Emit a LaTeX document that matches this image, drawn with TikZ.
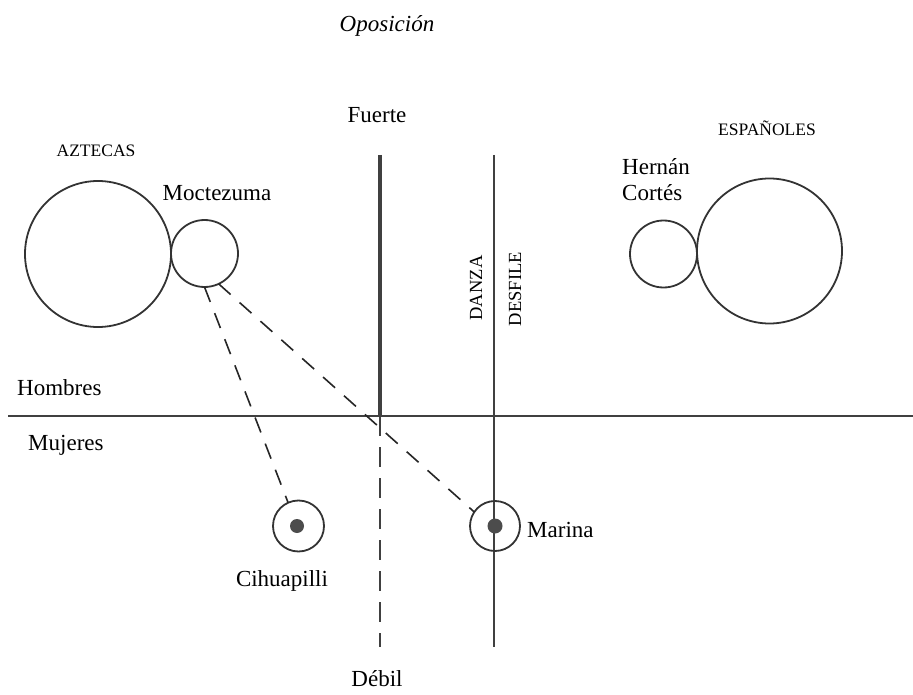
\documentclass[tikz,border=0pt]{standalone}
\usepackage{fontspec}
\setmainfont{Liberation Serif}
\begin{document}
\begin{tikzpicture}[x=1pt,y=-1pt,
  ring/.style={draw=black!80,line width=1.8pt,circle,inner sep=0pt,outer sep=0pt},
  dot/.style={fill=black!70,circle,inner sep=0pt,outer sep=0pt},
  lbl/.style={font=\fontsize{23}{26}\selectfont,inner sep=0pt,text=black},
  caplbl/.style={font=\fontsize{17.5}{20}\selectfont,inner sep=0pt,text=black},
  vlbl/.style={font=\fontsize{18.5}{20}\selectfont,inner sep=0pt,rotate=90,text=black},
  axisline/.style={draw=black!75,line width=2.4pt},
  thickaxis/.style={draw=black!75,line width=3.6pt},
  dashlink/.style={draw=black!85,line width=1.6pt,dash pattern=on 16pt off 12pt}
]
\useasboundingbox (0,0) rectangle (913,695);
\fill[white] (0,0) rectangle (913,695);

% axis coordinates
\coordinate (v1top) at (380,155);
\coordinate (v1mid) at (380,416);
\coordinate (v1bot) at (380,647);
\coordinate (v2top) at (494,155);
\coordinate (v2bot) at (494,647);
\coordinate (hleft) at (8,416);
\coordinate (hright) at (913,416);

\draw[axisline] (hleft) -- (hright);
\draw[thickaxis] (v1top) -- (v1mid);
\draw[axisline,dash pattern=on 20pt off 11pt] (v1mid) -- (v1bot);
\draw[axisline] (v2top) -- (v2bot);

% circles
\node[ring,minimum size=146pt] (azt) at (98,254) {};
\node[ring,minimum size=67pt] (moc) at (204.5,253.5) {};
\node[ring,minimum size=67pt] (cort) at (663.5,254) {};
\node[ring,minimum size=145pt] (esp) at (769.5,251) {};
\node[ring,minimum size=51pt] (cih) at (298.5,526) {};
\node[dot,minimum size=14pt] (cihdot) at (297,526) {};
\node[ring,minimum size=50pt] (mar) at (495,526) {};
\node[dot,minimum size=15pt] (mardot) at (495,526) {};

% dashed links
\draw[dashlink] (moc.-90) -- (cih.114);
\draw[dashlink] (moc.-65) -- (mar.146);

% labels
\node[lbl,font=\fontsize{23}{26}\selectfont\itshape] (opos) at (387,26) {Oposición};
\node[lbl] (fuerte) at (377,115) {Fuerte};
\node[lbl] (debil) at (377,679) {Débil};
\node[caplbl] (aztl) at (96,151) {AZTECAS};
\node[caplbl] (espl) at (767,128) {ESPAÑOLES};
\node[lbl] (mocl) at (217,193) {Moctezuma};
\node[lbl,align=left,anchor=north west,font=\fontsize{23}{26}\selectfont] (cortl) at (622,158) {Hernán\\Cortés};
\node[lbl,anchor=west] (homb) at (17,388) {Hombres};
\node[lbl,anchor=west] (muj) at (28,445) {Mujeres};
\node[lbl] (cihl) at (282,581) {Cihuapilli};
\node[lbl,anchor=west] (marl) at (527,530) {Marina};
\node[vlbl] (danza) at (476,288) {DANZA};
\node[vlbl] (desfile) at (515,289) {DESFILE};
\end{tikzpicture}
\end{document}
